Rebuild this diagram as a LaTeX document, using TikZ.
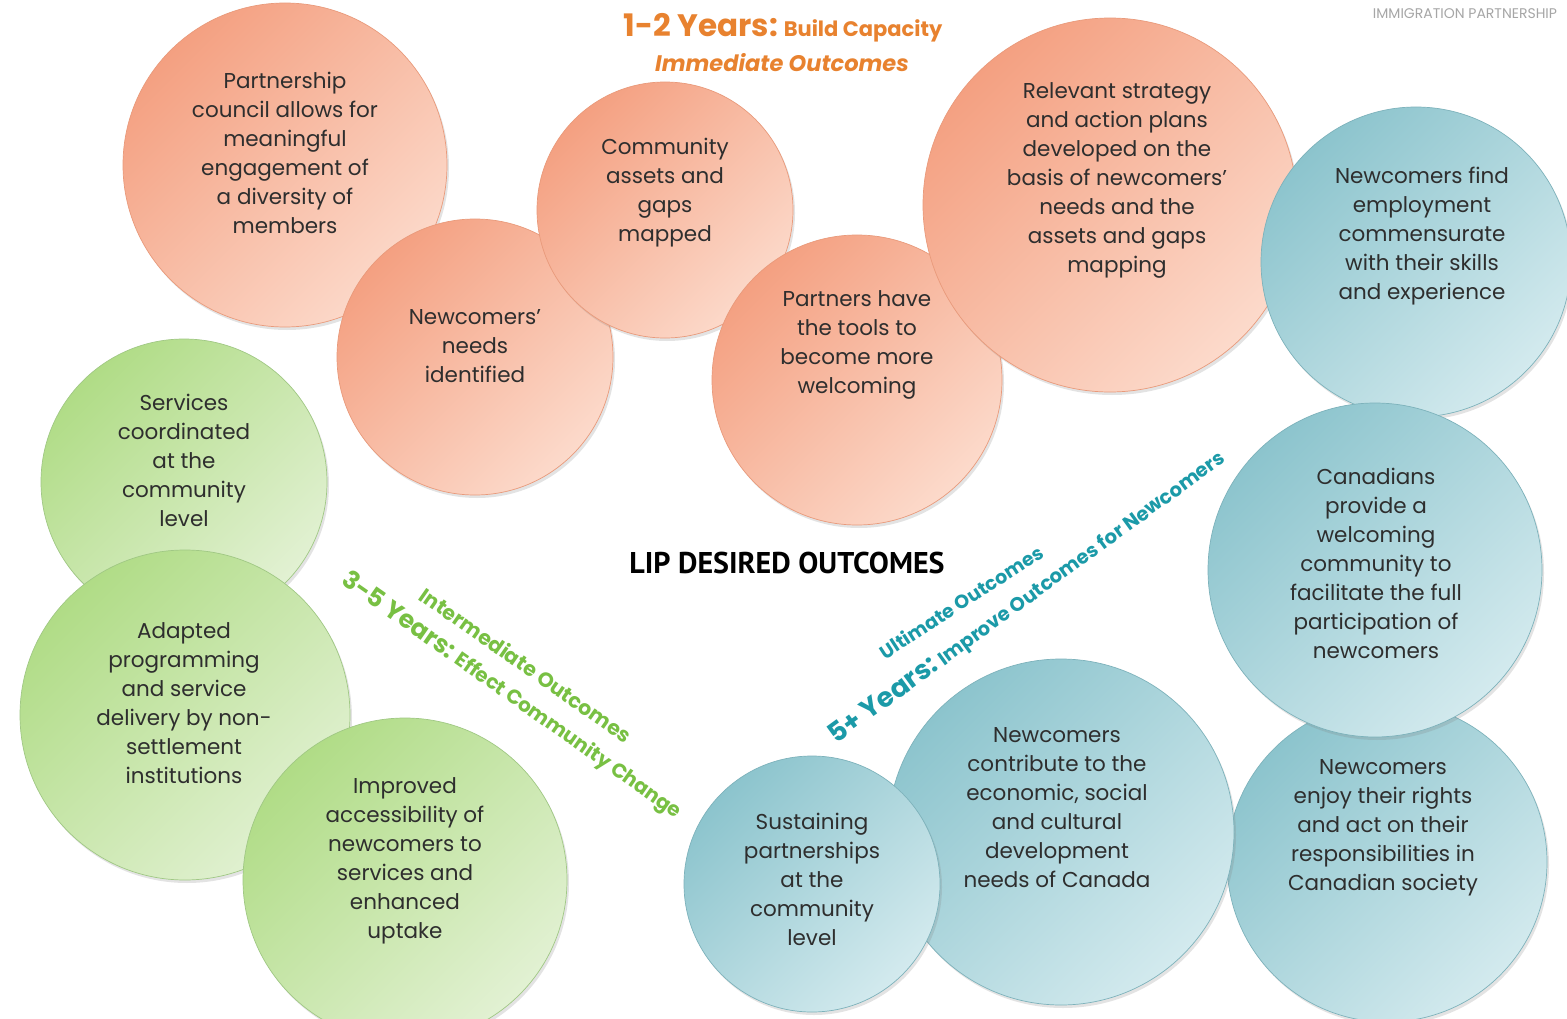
\documentclass[tikz,border=0pt]{standalone}
\usepackage{fontspec}
\setmainfont{Poppins}
\newfontfamily\headfont{PT Sans}
\usetikzlibrary{shadows}

\definecolor{orTop}{HTML}{F4A081}
\definecolor{orBot}{HTML}{FCDACB}
\definecolor{orEdge}{HTML}{E99A7B}
\definecolor{grTop}{HTML}{B0DC86}
\definecolor{grBot}{HTML}{E2F1D3}
\definecolor{grEdge}{HTML}{A0C884}
\definecolor{blTop}{HTML}{8CC4CD}
\definecolor{blBot}{HTML}{D3EAEE}
\definecolor{blEdge}{HTML}{7DB2BB}
\definecolor{orTxt}{HTML}{E8822F}
\definecolor{grTxt}{HTML}{78C043}
\definecolor{blTxt}{HTML}{1B9AA8}
\definecolor{txtGray}{HTML}{2E2E2E}

\tikzset{
  bubble/.style={circle, inner sep=0pt, minimum size=2*#1, line width=0.7pt,
    drop shadow={opacity=0.22, shadow xshift=2pt, shadow yshift=-3pt}},
  orb/.style={bubble=#1, draw=orEdge, top color=orTop, bottom color=orBot, shading angle=45},
  grb/.style={bubble=#1, draw=grEdge, top color=grTop, bottom color=grBot, shading angle=45},
  blb/.style={bubble=#1, draw=blEdge, top color=blTop, bottom color=blBot, shading angle=45},
  txt/.style={align=center, text=txtGray, font=\fontsize{21.5}{29}\selectfont},
}

\begin{document}
\begin{tikzpicture}[x=1pt, y=-1pt]
  \useasboundingbox (0,0) rectangle (1567,1019);
  \fill[white] (0,0) rectangle (1567,1019);

  % 1-2 years
  \node[orb=162] (c1) at (285,165) {};
  \node[txt] (t1) at (285,153) {Partnership\\council allows for\\meaningful\\engagement of\\a diversity of\\members};
  \node[orb=138] (c2) at (475,357) {};
  \node[txt] (t2) at (475,346) {Newcomers’\\needs\\identified};
  \node[orb=128] (c3) at (665,210) {};
  \node[txt] (t3) at (665,193) {Community\\assets and\\gaps\\mapped};
  \node[orb=145] (c4) at (857,380) {};
  \node[txt] (t4) at (857,345) {Partners have\\the tools to\\become more\\welcoming};
  \node[orb=187] (c5) at (1110,205) {};
  \node[txt] (t5) at (1117,180) {Relevant strategy\\and action plans\\developed on the\\basis of newcomers’\\needs and the\\assets and gaps\\mapping};

  % 3-5 years
  \node[grb=143] (c11) at (184,482) {};
  \node[txt] (t11) at (184,460) {Services\\coordinated\\at the\\community\\level};
  \node[grb=165] (c12) at (185,715) {};
  \node[txt] (t12) at (184,703) {Adapted\\programming\\and service\\delivery by non-\\settlement\\institutions};
  \node[grb=162] (c13) at (405,880) {};
  \node[txt] (t13) at (405,861) {Improved\\accessibility of\\newcomers to\\services and\\enhanced\\uptake};

  % 5+ years
  \node[blb=155] (c6) at (1416,262) {};
  \node[txt] (t6) at (1422,236) {Newcomers find\\employment\\commensurate\\with their skills\\and experience};
  \node[blb=160] (c8) at (1387,862) {};
  \node[txt] (t8) at (1383,828) {Newcomers\\enjoy their rights\\and act on their\\responsibilities in\\Canadian society};
  \node[blb=173] (c9) at (1061,832) {};
  \node[txt] (t9) at (1057,808) {Newcomers\\contribute to the\\economic, social\\and cultural\\development\\needs of Canada};
  \node[blb=167] (c7) at (1375,570) {};
  \node[txt] (t7) at (1376,563) {Canadians\\provide a\\welcoming\\community to\\facilitate the full\\participation of\\newcomers};
  \node[blb=128] (c10) at (812,884) {};
  \node[txt] (t10) at (812,879) {Sustaining\\partnerships\\at the\\community\\level};

  % headings
  \node[text=orTxt, font=\bfseries\fontsize{21}{24}\selectfont] (yr12) at (783,28)
    {{\fontsize{31}{34}\selectfont 1-2 Years:} Build Capacity};
  \node[text=orTxt, font=\bfseries\itshape\fontsize{22.5}{25}\selectfont] (imm) at (782,63) {Immediate Outcomes};
  \node[text=gray!70, font=\fontsize{14}{16}\selectfont] (lip) at (1465,14) {IMMIGRATION PARTNERSHIP};
  \node[text=black, font=\headfont\bfseries\fontsize{30}{34}\selectfont] (title) at (787,563) {LIP DESIRED OUTCOMES};

  \node[rotate=-35, text=grTxt, font=\bfseries\fontsize{20.5}{22}\selectfont] (inter) at (526,665) {Intermediate Outcomes};
  \node[rotate=-35, text=grTxt, font=\bfseries\fontsize{20}{22}\selectfont] (yr35) at (512,696)
    {{\fontsize{25}{28}\selectfont 3-5 Years:} Effect Community Change};
  \node[rotate=33, text=blTxt, font=\bfseries\fontsize{19}{21}\selectfont] (ult) at (961,602) {Ultimate Outcomes};
  \node[rotate=36, text=blTxt, font=\bfseries\fontsize{19.5}{22}\selectfont] (yr5) at (1027,597)
    {{\fontsize{27}{30}\selectfont 5+ Years:} Improve Outcomes for Newcomers};
\end{tikzpicture}
\end{document}
